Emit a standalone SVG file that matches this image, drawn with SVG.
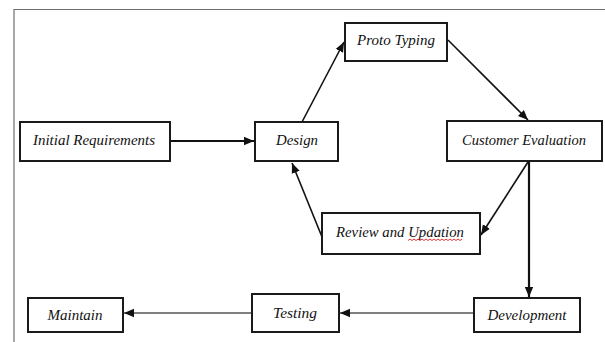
<svg xmlns="http://www.w3.org/2000/svg" width="605" height="342" viewBox="0 0 605 342">
  <style>
    .box { fill: #ffffff; stroke: #1a1a1a; stroke-width: 2; }
    .lbl { font-family: "Liberation Serif", "DejaVu Serif", serif; font-style: italic; font-size: 15px; fill: #111111; text-anchor: middle; }
    .frame { stroke: #6e6e6e; stroke-width: 1.2; fill: none; }
    .link { stroke: #111111; stroke-width: 1.6; fill: none; marker-end: url(#arrow); }
    .link-thick { stroke: #111111; stroke-width: 2.2; fill: none; marker-end: url(#arrow); }
    .link-thin { stroke: #555555; stroke-width: 1.4; fill: none; marker-end: url(#arrow); }
  </style>
  <defs>
    <marker id="arrow" markerUnits="userSpaceOnUse" markerWidth="10" markerHeight="10" viewBox="0 0 10 10" refX="10" refY="5" orient="auto">
      <path d="M0,0.8 L10,5 L0,9.2 Z" fill="#111111"/>
    </marker>
  </defs>

  <rect width="605" height="342" fill="#ffffff"/>

  <!-- page frame -->
  <path class="frame" d="M605,9.5 H14 V342"/>

  <!-- connectors -->
  <g id="connectors">
    <line class="link-thick" x1="170" y1="141" x2="254" y2="141"/>
    <line class="link" x1="302" y1="122" x2="344" y2="42"/>
    <line class="link" x1="448" y1="40" x2="528" y2="120"/>
    <line class="link" x1="528" y1="162" x2="481" y2="235"/>
    <line class="link" x1="322" y1="237" x2="292" y2="163"/>
    <line class="link-thick" x1="529" y1="162" x2="529" y2="297"/>
    <line class="link-thin" x1="474" y1="313" x2="340" y2="313"/>
    <line class="link-thin" x1="252" y1="313" x2="124" y2="313"/>
  </g>

  <!-- nodes -->
  <g id="initial-requirements">
    <rect class="box" x="20" y="122" width="150" height="39"/>
    <text class="lbl" x="94" y="145" textLength="122" lengthAdjust="spacingAndGlyphs">Initial Requirements</text>
  </g>
  <g id="design">
    <rect class="box" x="255" y="122" width="83" height="39"/>
    <text class="lbl" x="297" y="145" textLength="42" lengthAdjust="spacingAndGlyphs">Design</text>
  </g>
  <g id="proto-typing">
    <rect class="box" x="345" y="23" width="102" height="38"/>
    <text class="lbl" x="396" y="45" textLength="78" lengthAdjust="spacingAndGlyphs">Proto Typing</text>
  </g>
  <g id="customer-evaluation">
    <rect class="box" x="447" y="121" width="155" height="40"/>
    <text class="lbl" x="524" y="145" textLength="124" lengthAdjust="spacingAndGlyphs">Customer Evaluation</text>
  </g>
  <g id="review-and-updation">
    <rect class="box" x="322" y="213" width="158" height="41"/>
    <text class="lbl" x="400" y="237" textLength="128" lengthAdjust="spacingAndGlyphs">Review and Updation</text>
    <path d="M408,240.5 l2,-1.5 l2,1.5 l2,-1.5 l2,1.5 l2,-1.5 l2,1.5 l2,-1.5 l2,1.5 l2,-1.5 l2,1.5 l2,-1.5 l2,1.5 l2,-1.5 l2,1.5 l2,-1.5 l2,1.5 l2,-1.5 l2,1.5 l2,-1.5 l2,1.5 l2,-1.5 l2,1.5 l2,-1.5 l2,1.5 l2,-1.5 l2,1.5 l2,-1.5" fill="none" stroke="#e02020" stroke-width="0.9"/>
  </g>
  <g id="development">
    <rect class="box" x="474" y="298" width="106" height="34"/>
    <text class="lbl" x="527" y="320" textLength="79" lengthAdjust="spacingAndGlyphs">Development</text>
  </g>
  <g id="testing">
    <rect class="box" x="252" y="294" width="87" height="38"/>
    <text class="lbl" x="295" y="318" textLength="44" lengthAdjust="spacingAndGlyphs">Testing</text>
  </g>
  <g id="maintain">
    <rect class="box" x="28" y="298" width="95" height="34"/>
    <text class="lbl" x="75" y="320" textLength="55" lengthAdjust="spacingAndGlyphs">Maintain</text>
  </g>
</svg>
